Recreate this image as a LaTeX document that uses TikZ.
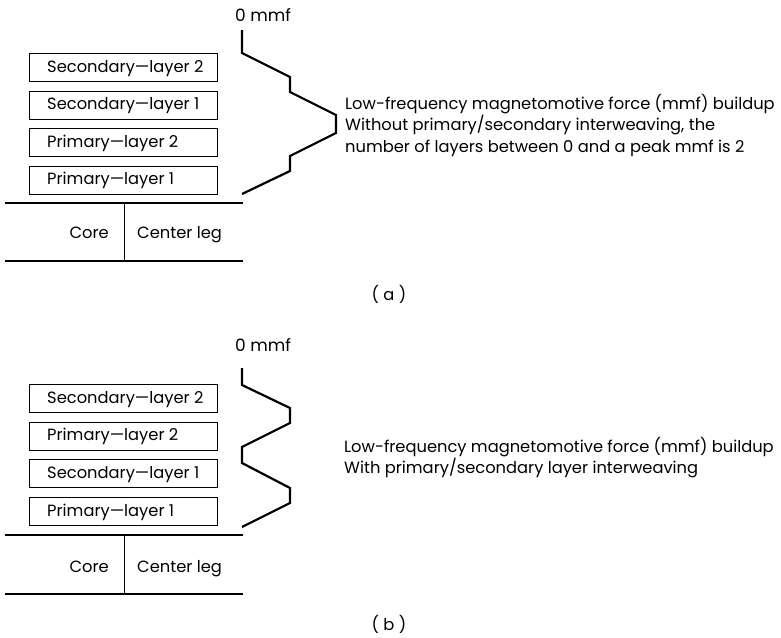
\documentclass[tikz,border=0pt]{standalone}
\usepackage{fontspec}
\setmainfont{Poppins}
\begin{document}
\begin{tikzpicture}[x=1pt,y=-1pt,
  layerbox/.style={draw, line width=1pt, minimum width=188pt, minimum height=28pt, inner sep=0pt, anchor=north west},
  lbl/.style={font=\fontsize{16.3}{19}\selectfont, inner sep=0pt},
  zlbl/.style={font=\fontsize{17}{19}\selectfont, inner sep=0pt},
  coreline/.style={line width=2pt},
  divline/.style={line width=1pt},
  mmfcurve/.style={line width=2.2pt, line join=miter}]
\useasboundingbox (0,0) rectangle (781,637);

% ---------------- (a) ----------------
\node[layerbox] (a1) at (29,53) {};
\node[layerbox] (a2) at (29,90.5) {};
\node[layerbox] (a3) at (29,128) {};
\node[layerbox] (a4) at (29,165.5) {};
\node[lbl, anchor=base west] (ta1) at (47,72) {Secondary—layer 2};
\node[lbl, anchor=base west] (ta2) at (47,109.5) {Secondary—layer 1};
\node[lbl, anchor=base west] (ta3) at (47,147) {Primary—layer 2};
\node[lbl, anchor=base west] (ta4) at (47,184.5) {Primary—layer 1};

\coordinate (acl) at (5,203);  \coordinate (acr) at (243,203);
\coordinate (abl) at (5,261);  \coordinate (abr) at (243,261);
\coordinate (adt) at (124,203); \coordinate (adb) at (124,261);
\draw[coreline] (acl) -- (acr);
\draw[coreline] (abl) -- (abr);
\draw[divline] (adt) -- (adb);
\node[lbl, anchor=base east] (acore) at (109,238) {Core};
\node[lbl, anchor=base west] (aleg) at (137,238) {Center leg};

\node[zlbl, anchor=base west] (azero) at (235,21) {0 mmf};
\coordinate (am0) at (242,30);
\coordinate (am9) at (242,194);
\draw[mmfcurve] (am0) -- (242,53) -- (290,77) -- (290,92) -- (336,115) -- (336,133)
  -- (290,156) -- (290,171) -- (am9);

\node[lbl, anchor=base west] (atx1) at (345,109) {Low-frequency magnetomotive force (mmf) buildup};
\node[lbl, anchor=base west] (atx2) at (345,130.5) {Without primary/secondary interweaving, the};
\node[lbl, anchor=base west] (atx3) at (345,152) {number of layers between 0 and a peak mmf is 2};

\node[lbl, anchor=base] (acap) at (389,300) {( a )};

% ---------------- (b) ----------------
\node[layerbox] (b1) at (29,384) {};
\node[layerbox] (b2) at (29,421.5) {};
\node[layerbox] (b3) at (29,459) {};
\node[layerbox] (b4) at (29,497) {};
\node[lbl, anchor=base west] (tb1) at (47,403) {Secondary—layer 2};
\node[lbl, anchor=base west] (tb2) at (47,440.5) {Primary—layer 2};
\node[lbl, anchor=base west] (tb3) at (47,478) {Secondary—layer 1};
\node[lbl, anchor=base west] (tb4) at (47,516) {Primary—layer 1};

\coordinate (bcl) at (5,535);  \coordinate (bcr) at (243,535);
\coordinate (bbl) at (5,594);  \coordinate (bbr) at (243,594);
\coordinate (bdt) at (124,535); \coordinate (bdb) at (124,594);
\draw[coreline] (bcl) -- (bcr);
\draw[coreline] (bbl) -- (bbr);
\draw[divline] (bdt) -- (bdb);
\node[lbl, anchor=base east] (bcore) at (109,572) {Core};
\node[lbl, anchor=base west] (bleg) at (137,572) {Center leg};

\node[zlbl, anchor=base west] (bzero) at (235,351) {0 mmf};
\coordinate (bm0) at (242,368);
\coordinate (bm9) at (242,527);
\draw[mmfcurve] (bm0) -- (242,385) -- (290,408) -- (290,423) -- (242,447) -- (242,463)
  -- (290,488) -- (290,503) -- (bm9);

\node[lbl, anchor=base west] (btx1) at (344,452) {Low-frequency magnetomotive force (mmf) buildup};
\node[lbl, anchor=base west] (btx2) at (344,473) {With primary/secondary layer interweaving};

\node[lbl, anchor=base] (bcap) at (389,630) {( b )};
\end{tikzpicture}
\end{document}
